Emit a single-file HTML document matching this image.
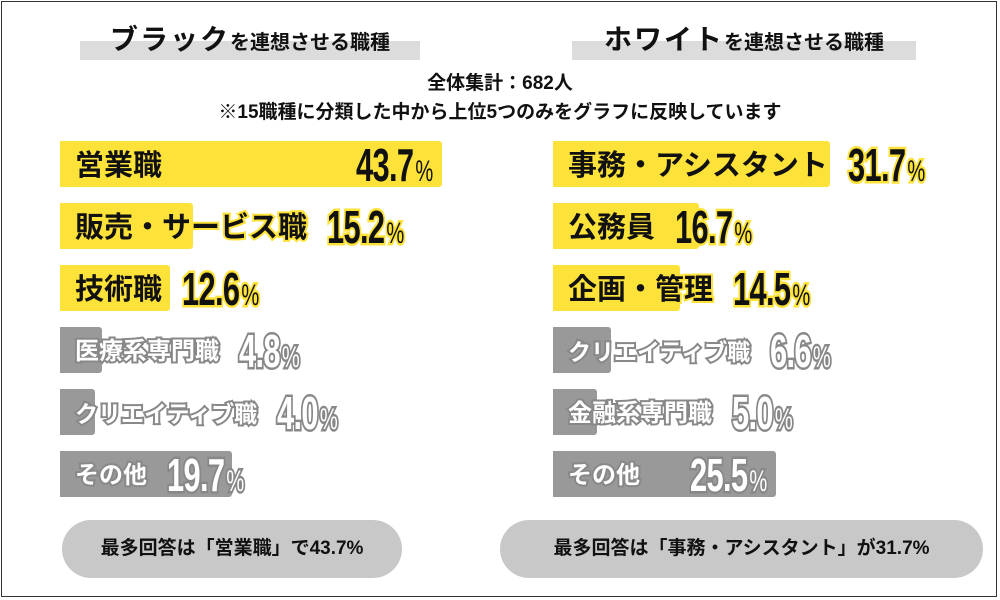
<!DOCTYPE html>
<html><head><meta charset="utf-8"><style>
html,body{margin:0;padding:0;background:#fff}
#root{position:relative;width:1000px;height:600px;overflow:hidden;font-family:"Liberation Sans","Noto Sans CJK JP",sans-serif;}
.frame{position:absolute;left:1px;top:1px;width:996px;height:596px;border:1px solid #333;box-sizing:border-box}
.band{position:absolute;height:19px;background:#dcdcdc}
.title{position:absolute;font-weight:bold;color:#111;white-space:nowrap;text-align:center}
.title .big{font-size:28px;letter-spacing:2px}
.title .sm{font-size:20px}
.note{position:absolute;left:0;width:1000px;text-align:center;font-weight:bold;font-size:19px;color:#111}
.bar{position:absolute;height:46px;border-radius:0 3px 3px 0}
.lbl{position:absolute;font-weight:bold;font-size:29px;white-space:nowrap;paint-order:stroke fill;line-height:50px}
.val{position:absolute;font-weight:bold;font-size:46px;white-space:nowrap;paint-order:stroke fill;line-height:50px;letter-spacing:-1px;transform:scaleX(0.67);transform-origin:0 0}
.val small{font-size:30px;font-weight:normal;margin-left:3px}
.pill{position:absolute;top:520px;height:58px;background:#c8c8c8;border-radius:29px;font-weight:bold;font-size:19px;color:#111;line-height:58px;text-align:center}
</style></head><body>
<div id="root">
<div class="frame"></div>
<div class="band" style="left:80px;top:41px;width:340px"></div>
<div class="band" style="left:572px;top:41px;width:344px"></div>
<div class="title" style="left:80px;top:18px;width:340px"><span class="big">ブラック</span><span class="sm">を連想させる職種</span></div>
<div class="title" style="left:572px;top:18px;width:344px"><span class="big">ホワイト</span><span class="sm">を連想させる職種</span></div>
<div class="note" style="top:68px">全体集計：682人</div>
<div class="note" style="top:97px">※15職種に分類した中から上位5つのみをグラフに反映しています</div>
<div class="pill" style="left:62px;width:340px">最多回答は「営業職」で43.7%</div>
<div class="pill" style="left:500px;width:483px">最多回答は「事務・アシスタント」が31.7%</div>
</div>
<script>
const leftCats=["営業職","販売・サービス職","技術職","医療系専門職","クリエイティブ職","その他"];
const leftVals=[43.7,15.2,12.6,4.8,4.0,19.7];
const rightCats=["事務・アシスタント","公務員","企画・管理","クリエイティブ職","金融系専門職","その他"];
const rightVals=[31.7,16.7,14.5,6.6,5.0,25.5];
const root=document.getElementById('root');
const scale=8.75;
function x(v){return v*scale;}
function draw(cats,vals,x0){
  cats.forEach((c,i)=>{
    const y=141+i*62;
    const hi=i<3;
    const w=x(vals[i]);
    const b=document.createElement('div');b.className='bar';
    
    
    b.style.left=x0+'px';b.style.top=y+'px';b.style.width=w+'px';
    b.style.background=hi?'#fde23a':'#999';
    root.appendChild(b);
    const l=document.createElement('div');l.className='lbl';l.textContent=c;
    
    
    l.style.left=(x0+15)+'px';l.style.top=(y)+'px';
    if(hi){l.style.color='#111';l.style.webkitTextStroke='4px #fde23a';}
    else{l.style.color='#fff';l.style.webkitTextStroke='4px #888';l.style.fontSize=(c.length>7?'23px':'24px');}
    root.appendChild(l);
    const lw=l.getBoundingClientRect().width;
    const v=document.createElement('div');v.className='val';
    
    
    v.innerHTML=vals[i].toFixed(1)+'<small>%</small>';
    v.style.top=(y-1)+'px';
    if(hi){v.style.color='#111';v.style.webkitTextStroke='5px #fde23a';}
    else{v.style.color='#fff';v.style.webkitTextStroke='5px #888';}
    root.appendChild(v);
    const vw=v.getBoundingClientRect().width;
    const vx=Math.max(x0+15+lw+20, x0+w-vw-10);
    v.style.left=vx+'px';
  });
}
draw(leftCats,leftVals,60);
draw(rightCats,rightVals,553);
</script>
</body></html>
